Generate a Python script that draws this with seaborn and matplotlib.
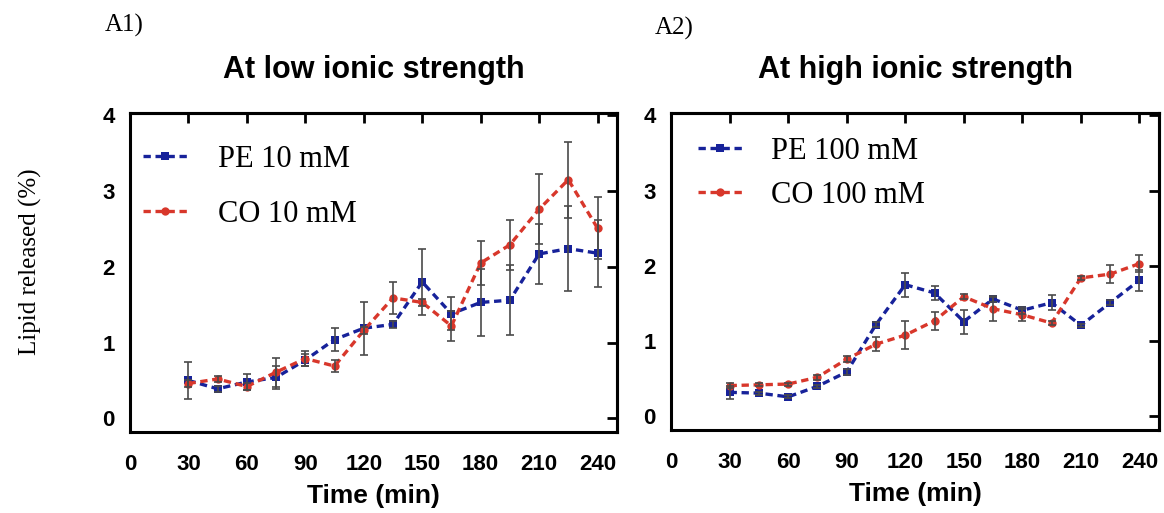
import numpy as np
import pandas as pd
import matplotlib
matplotlib.use("Agg")
import matplotlib.pyplot as plt
import seaborn as sns

time = [30, 45, 60, 75, 90, 105, 120, 135, 150, 165, 180, 195, 210, 225, 240]

pe_low = [0.50, 0.39, 0.48, 0.54, 0.77, 1.04, 1.19, 1.24, 1.80, 1.38, 1.53, 1.56, 2.17, 2.24, 2.18]
pe_low_err = [0.25, 0.04, 0.10, 0.15, 0.08, 0.15, 0.35, 0.05, 0.44, 0.22, 0.44, 0.46, 0.40, 0.56, 0.44]
co_low = [0.46, 0.52, 0.42, 0.61, 0.79, 0.69, 1.16, 1.59, 1.53, 1.22, 2.05, 2.29, 2.76, 3.15, 2.51]
co_low_err = [0.05, 0.04, 0.05, 0.19, 0.10, 0.08, 0.05, 0.21, 0.05, 0.20, 0.29, 0.33, 0.46, 0.50, 0.41]

pe_high = [0.32, 0.31, 0.26, 0.40, 0.59, 1.22, 1.75, 1.64, 1.26, 1.56, 1.41, 1.51, 1.21, 1.51, 1.81]
pe_high_err = [0.09, 0.02, 0.02, 0.02, 0.04, 0.03, 0.16, 0.09, 0.16, 0.04, 0.05, 0.10, 0.02, 0.03, 0.14]
co_high = [0.41, 0.42, 0.43, 0.52, 0.76, 0.96, 1.08, 1.27, 1.59, 1.43, 1.35, 1.24, 1.84, 1.89, 2.03]
co_high_err = [0.03, 0.02, 0.02, 0.03, 0.04, 0.09, 0.19, 0.12, 0.03, 0.16, 0.08, 0.03, 0.03, 0.12, 0.11]

titles = ["At low ionic strength", "At high ionic strength"]
panel_labels = ["A1)", "A2)"]
legend_low = ["PE 10 mM", "CO 10 mM"]
legend_high = ["PE 100 mM", "CO 100 mM"]
xticks = [0, 30, 60, 90, 120, 150, 180, 210, 240]
yticks = [0, 1, 2, 3, 4]

BLUE = "#17229a"
RED = "#d8372b"

sns.set_theme(style="white")
plt.rcParams["font.family"] = ["Liberation Sans", "DejaVu Sans"]
plt.rcParams["text.color"] = "black"
plt.rcParams["axes.labelcolor"] = "black"
plt.rcParams["xtick.color"] = "black"
plt.rcParams["ytick.color"] = "black"
plt.rcParams["axes.titlecolor"] = "black"

fig = plt.figure(figsize=(11.64, 5.13), dpi=100)
W, H = 1164, 513
axes = [
    fig.add_axes([130 / W, 1 - 432 / H, (617 - 130) / W, (432 - 113) / H]),
    fig.add_axes([671 / W, 1 - 430 / H, (1159 - 671) / W, (430 - 113) / H]),
]

panels = [
    (pe_low, pe_low_err, co_low, co_low_err, legend_low),
    (pe_high, pe_high_err, co_high, co_high_err, legend_high),
]
legend_anchor = [(0.027, 0.90), (0.055, 0.925)]
legend_spacing = [0.85, 0.5]
legend_textpad = [1.0, 0.95]

for i, (ax, (pe, pe_e, co, co_e, labs)) in enumerate(zip(axes, panels)):
    df = pd.DataFrame({
        "Time": time * 2,
        "val": pe + co,
        "err": pe_e + co_e,
        "series": [labs[0]] * len(time) + [labs[1]] * len(time),
    })
    sns.lineplot(data=df, x="Time", y="val", hue="series", style="series",
                 markers={labs[0]: "s", labs[1]: "o"},
                 dashes={labs[0]: (2.2, 1.4), labs[1]: (2.2, 1.4)},
                 palette={labs[0]: BLUE, labs[1]: RED},
                 linewidth=2.4, markersize=6, markeredgewidth=0,
                 ax=ax, legend=True, zorder=2)
    for lab in labs:
        sub = df[df["series"] == lab]
        ax.errorbar(sub["Time"], sub["val"], yerr=sub["err"], fmt="none",
                    ecolor="#4a4a4a", elinewidth=1.2, capsize=3, capthick=1.2, zorder=3)
    ax.set_xlim(0, 250)
    ax.set_ylim(-0.18, 4.03)
    ax.set_xticks(xticks)
    ax.set_yticks(yticks)
    ax.set_xlabel("Time (min)", fontsize=19, fontweight="bold", labelpad=6, color="black")
    ax.set_ylabel("")
    ax.tick_params(axis="both", which="both", direction="out", length=6, width=2,
                   labelsize=16, color="black", labelcolor="black")
    ax.tick_params(axis="x", pad=10)
    ax.tick_params(axis="y", pad=5)
    for lbl in ax.get_xticklabels() + ax.get_yticklabels():
        lbl.set_fontweight("bold")
    for s in ax.spines.values():
        s.set_linewidth(2.2)
        s.set_color("black")
    # inward ticks on top and right
    sx = ax.secondary_xaxis("top")
    sx.set_xticks(xticks)
    sx.tick_params(direction="in", length=7, width=2, labeltop=False, color="black")
    sx.spines["top"].set_linewidth(2.2)
    sy = ax.secondary_yaxis("right")
    sy.set_yticks(yticks)
    sy.tick_params(direction="in", length=7, width=2, labelright=False, color="black")
    sy.spines["right"].set_linewidth(2.2)

    ax.set_title(titles[i], fontsize=22, fontweight="bold", pad=25, color="black")
    ax.legend(loc="upper left", bbox_to_anchor=legend_anchor[i], borderaxespad=0,
              borderpad=0, frameon=False, handlelength=1.45, handletextpad=legend_textpad[i],
              labelspacing=legend_spacing[i], labelcolor="black",
              prop={"family": "Liberation Serif", "size": 22})

fig.text(105 / W, 1 - 25 / H, panel_labels[0], fontsize=18, family="Liberation Serif",
         va="center", color="black")
fig.text(655 / W, 1 - 28 / H, panel_labels[1], fontsize=18, family="Liberation Serif",
         va="center", color="black")
fig.text(30 / W, 1 - 262 / H, "Lipid released (%)", rotation=90, fontsize=18,
         family="Liberation Serif", va="center", ha="center", color="black")

fig.savefig("out.png", dpi=100)
